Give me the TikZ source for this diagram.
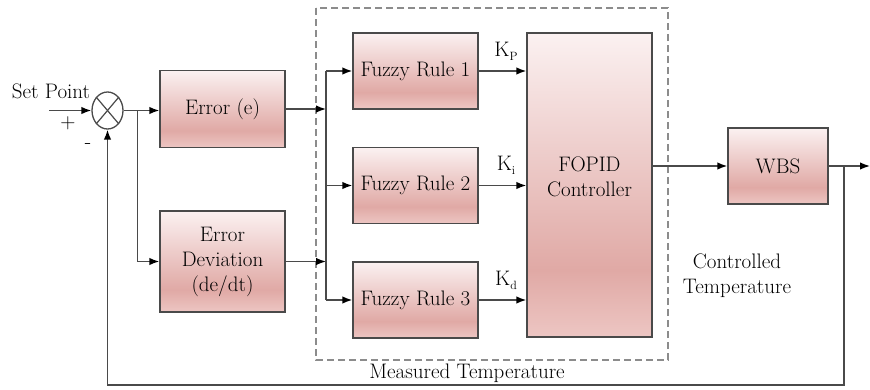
\documentclass[tikz,border=0pt]{standalone}
\usetikzlibrary{shapes.geometric,arrows.meta}
\definecolor{boxtop}{HTML}{FBF1F1}
\definecolor{boxmid}{HTML}{E0A9A5}
\definecolor{boxbot}{HTML}{EDC6C3}
\definecolor{edge}{HTML}{4A4A4A}
\definecolor{dashgray}{HTML}{8C8C8C}
% pink block fill: light at the top, darkest low down, a little lighter at the bottom
\pgfdeclareverticalshading{blockfill}{100bp}{color(0bp)=(boxbot); color(25bp)=(boxbot); color(36bp)=(boxmid); color(75bp)=(boxtop); color(100bp)=(boxtop)}
\newcommand{\lowsub}[1]{\raisebox{-4pt}{\fontsize{12}{12}\selectfont #1}}
\begin{document}
\begin{tikzpicture}[x=1pt,y=-1pt,
  font=\rmfamily\fontsize{21}{25}\selectfont,
  block/.style={draw=edge,line width=1.4pt,shading=blockfill,inner sep=0pt,align=center},
  wire/.style={draw=edge,line width=1.5pt},
  arr/.style={wire,-{Latex[length=10pt,width=7.5pt,black]}},
  lbl/.style={inner sep=0pt,align=center}]
\useasboundingbox (0,0) rectangle (870,389);

% dashed frame around the fuzzy tuner and controller
\draw[dashgray,line width=1.5pt,dash pattern=on 7pt off 4pt] (316,8) rectangle (668,360);

% summing junction
\node[draw=edge,line width=1.3pt,ellipse,fill=white,minimum width=31pt,minimum height=37pt,inner sep=0pt] (sum) at (107.5,110.5) {};
\draw[edge,line width=1.2pt] (sum.north west) -- (sum.south east) (sum.north east) -- (sum.south west);

% blocks
\node[block,minimum width=125pt,minimum height=77pt] (err) at (222.5,109) {Error (e)};
\node[block,minimum width=125pt,minimum height=101pt] (dev) at (222.5,261.5) {Error\\Deviation\\(de/dt)};
\node[block,minimum width=125pt,minimum height=76pt] (fr1) at (415.5,71) {Fuzzy Rule 1};
\node[block,minimum width=125pt,minimum height=76pt] (fr2) at (415.5,185.5) {Fuzzy Rule 2};
\node[block,minimum width=125pt,minimum height=76pt] (fr3) at (415.5,300) {Fuzzy Rule 3};
\node[block,minimum width=125pt,minimum height=304pt] (fopid) at (589.5,185) {};
\node[lbl] (fopidtxt) at (589.5,177) {FOPID\\Controller};
\node[block,minimum width=100pt,minimum height=76pt] (wbs) at (778,166) {WBS};

% text labels
\node[lbl] (sp) at (51,91) {Set Point};
\node[lbl] (plus) at (68,123) {+};
\node[lbl] (minus) at (88,146) {-};
\node[lbl] (kp) at (506,51) {K\lowsub{P}};
\node[lbl] (ki) at (506,165) {K\lowsub{i}};
\node[lbl] (kd) at (506,280) {K\lowsub{d}};
\node[lbl] (ctl) at (737,275.5) {Controlled\\Temperature};
\node[lbl] (meas) at (467,373) {Measured Temperature};

% junction points
\coordinate (in) at (49,110.5);
\coordinate (split) at (137.5,110.5);
\coordinate (bustop) at (326,71);
\coordinate (busbot) at (326,300);
\coordinate (out) at (870,166);
\coordinate (tap) at (844,166);
\coordinate (fbcorner) at (107.5,385);

% forward path
\draw[arr] (in) -- (sum.west);
\draw[wire] (sum.east) -- (split);
\draw[arr] (split) -- (err.west |- split);
\draw[arr] (split) |- (dev.west);
\draw[arr] (err.east) -- (err.east -| bustop);
\draw[arr] (dev.east) -- (dev.east -| bustop);
\draw[wire] (bustop) -- (busbot);
\draw[arr] (bustop) -- (fr1.west);
\draw[arr] (bustop |- fr2.west) -- (fr2.west);
\draw[arr] (busbot) -- (fr3.west);
\draw[arr] (fr1.east) -- (fr1.east -| fopid.west);
\draw[arr] (fr2.east) -- (fr2.east -| fopid.west);
\draw[arr] (fr3.east) -- (fr3.east -| fopid.west);
\draw[arr] (fopid.east |- wbs.west) -- (wbs.west);
\draw[arr] (wbs.east) -- (out);

% feedback path
\draw[arr] (tap) |- (fbcorner) -- (sum.south);
\end{tikzpicture}
\end{document}
